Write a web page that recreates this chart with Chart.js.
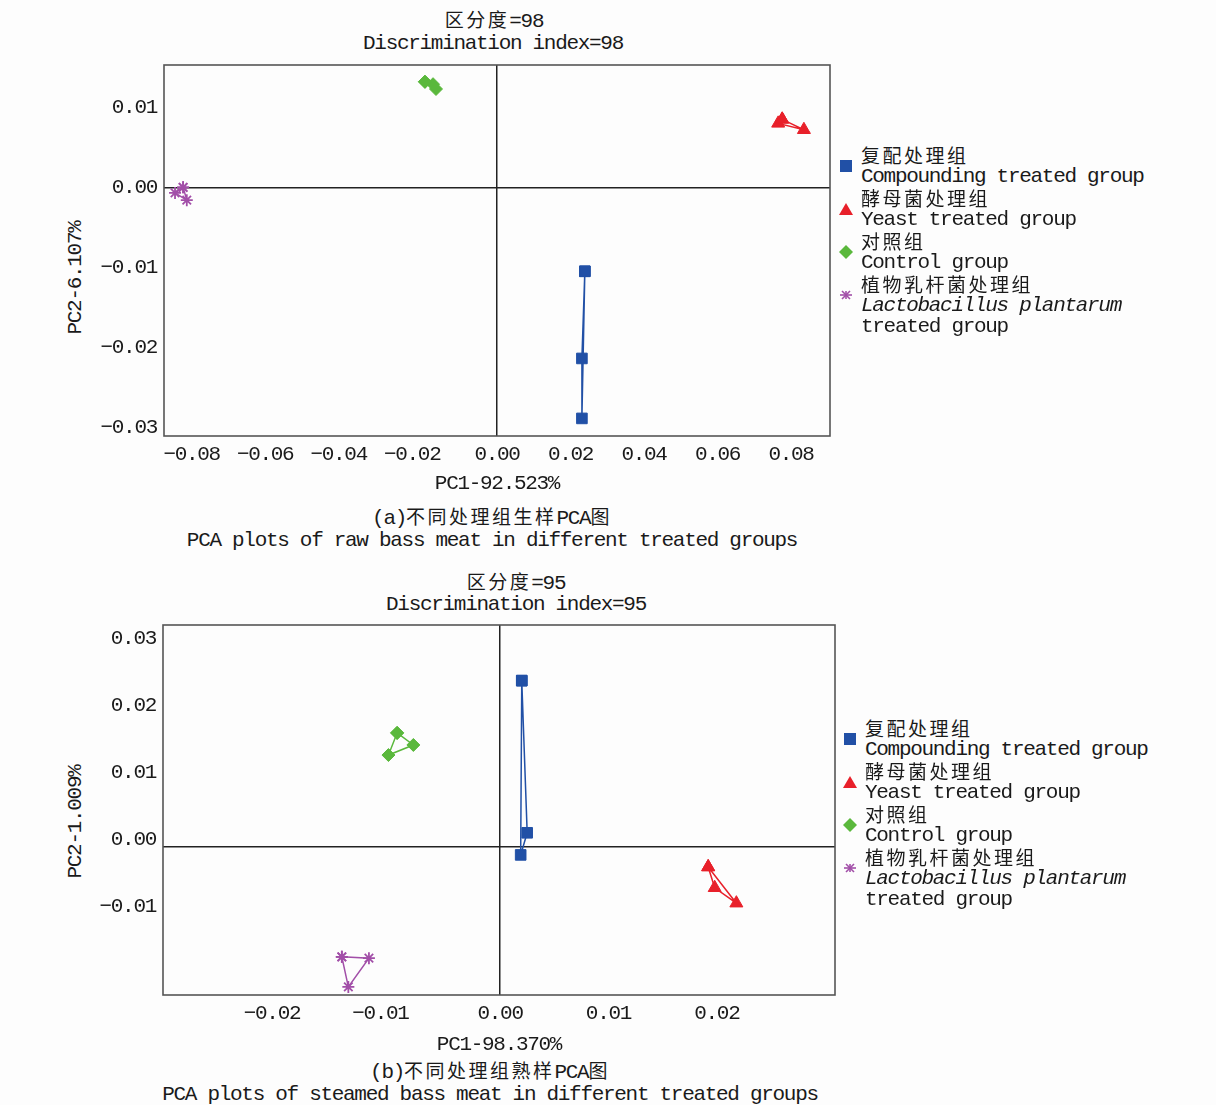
<!DOCTYPE html>
<html>
<head>
<meta charset="utf-8">
<script src="https://cdn.jsdelivr.net/npm/chart.js@4.4.1/dist/chart.umd.min.js"></script>
<style>
  body { margin: 0; background: #fdfdfd; width: 1216px; height: 1105px; position: relative; overflow: hidden;
         font-family: "Liberation Mono", "Noto Sans CJK SC", monospace; font-size: 21px; letter-spacing: -1.3px; color: #1a1a1a; }
  canvas { position: absolute; left: 0; }
  .t { position: absolute; white-space: nowrap; transform: translate(-50%, -50%); line-height: 23px; }
  .yt { transform: translate(-50%, -50%) rotate(-90deg); }
  .c { font-family: "Noto Sans CJK SC"; font-size: 19px; letter-spacing: 2.5px; }
  .legend { position: absolute; white-space: nowrap; }
  .legend .row { position: relative; }
  .legend .ln { height: 21.5px; line-height: 21.5px; overflow: visible; }
  .legend svg { position: absolute; left: -22px; top: 15px; }
  .legend i { font-style: italic; }
</style>
</head>
<body>

<div class="t" style="left:494px;top:20px"><span class="c">区分度</span>=98</div>
<div class="t" style="left:493px;top:43px">Discrimination index=98</div>
<div class="t yt" style="left:75px;top:278px">PC2-6.107%</div>
<div class="t" style="left:492px;top:517px">(a)<span class="c">不同处理组生样</span>PCA<span class="c">图</span></div>
<div class="t" style="left:492px;top:540px">PCA plots of raw bass meat in different treated groups</div>

<div class="t" style="left:516px;top:582px"><span class="c">区分度</span>=95</div>
<div class="t" style="left:516px;top:604px">Discrimination index=95</div>
<div class="t yt" style="left:75px;top:822px">PC2-1.009%</div>
<div class="t" style="left:490px;top:1071px">(b)<span class="c">不同处理组熟样</span>PCA<span class="c">图</span></div>
<div class="t" style="left:490px;top:1094px">PCA plots of steamed bass meat in different treated groups</div>

<canvas id="chartA" width="845" height="445" style="top:55px"></canvas>
<canvas id="chartB" width="850" height="446" style="top:615px"></canvas>

<div class="legend" id="legendA" style="left:861px;top:144px"></div>
<div class="legend" id="legendB" style="left:865px;top:717px"></div>

<script>
// group names
const groupsCn = ['复配处理组', '酵母菌处理组', '对照组', '植物乳杆菌处理组']
const groupsEn = ['Compounding treated group', 'Yeast treated group', 'Control group', 'Lactobacillus plantarum treated group']
const colors = ['#2150a6', '#e8202a', '#5ab83c', '#a24fa8']
const shapes = ['rect', 'triangle', 'rectRot', 'star']

// (a) raw meat, [PC1, PC2]
const compoundA = [[0.0239, -0.0104], [0.0231, -0.0213], [0.0231, -0.0288]]
const yeastA = [[0.0776, 0.0086], [0.0765, 0.0081], [0.0835, 0.0073]]
const controlA = [[-0.0196, 0.0133], [-0.0174, 0.0130], [-0.0166, 0.0124]]
const lactoA = [[-0.0854, 0.0001], [-0.0876, -0.0006], [-0.0844, -0.0015]]

// (b) steamed meat, [PC1, PC2]
const compoundB = [[0.0020, 0.0248], [0.0025, 0.0021], [0.0019, -0.0012]]
const yeastB = [[0.0192, -0.0030], [0.0198, -0.0061], [0.0218, -0.0084]]
const controlB = [[-0.0095, 0.0170], [-0.0080, 0.0152], [-0.0103, 0.0137]]
const lactoB = [[-0.0146, -0.0164], [-0.0121, -0.0166], [-0.0140, -0.0209]]

// tick labels
const xTicksA = [-0.08, -0.06, -0.04, -0.02, 0, 0.02, 0.04, 0.06, 0.08]
const yTicksA = [0.01, 0, -0.01, -0.02, -0.03]
const xTicksB = [-0.02, -0.01, 0, 0.01, 0.02]
const yTicksB = [0.03, 0.02, 0.01, 0, -0.01]

const fmt = (v, pad) => {
    if (Math.abs(v) < 1e-9) return '0.00'
    if (v < 0) return '\u2212' + Math.abs(v).toFixed(2) + (pad ? '  ' : '')
    return v.toFixed(2)
}

// closed outline through the three replicates
const loop = (pts) => pts.concat([pts[0]]).map(p => ({x: p[0], y: p[1]}))

const frame = {
    id: 'frame',
    beforeDraw(chart) {
        chart.ctx.letterSpacing = '-1.3px'
    },
    beforeDatasetsDraw(chart) {
        const {ctx, chartArea: a} = chart
        ctx.save()
        ctx.strokeStyle = '#555'
        ctx.lineWidth = 1.6
        ctx.strokeRect(a.left, a.top, a.right - a.left, a.bottom - a.top)
        ctx.restore()
    }
}

const tickFont = {family: 'Liberation Mono', size: 21}
const zeroLine = c => c.tick && Math.abs(c.tick.value) < 1e-9 ? '#222' : 'rgba(0,0,0,0)'

const makeChart = (id, sets, xr, yr, xt, yt, xTitle, yAxisW, xAxisH, pad, yLabelOff) => {
    const radius = [7.5, 7.5, 6.5, 6]
    new Chart(document.getElementById(id), {
        type: 'scatter',
        data: {
            datasets: sets.map((pts, i) => ({
                label: groupsEn[i],
                data: loop(pts),
                showLine: true,
                borderColor: colors[i],
                backgroundColor: colors[i],
                borderWidth: 1.5,
                pointStyle: shapes[i],
                pointRadius: radius[i],
                pointBorderWidth: i === 3 ? 1.8 : 1,
                pointHoverRadius: radius[i]
            }))
        },
        options: {
            responsive: false,
            animation: false,
            events: [],
            layout: {padding: pad},
            plugins: {legend: {display: false}, tooltip: {enabled: false}},
            scales: {
                x: {
                    min: xr[0], max: xr[1],
                    afterBuildTicks: s => { s.ticks = xt.map(v => ({value: v})) },
                    afterFit: s => { s.height = xAxisH; s.paddingLeft = 0; s.paddingRight = 0 },
                    grid: {drawTicks: false, color: zeroLine, lineWidth: 1.5},
                    border: {display: false},
                    ticks: {autoSkip: false, maxRotation: 0, padding: 6, color: '#1a1a1a', font: tickFont,
                            callback: v => fmt(v, true)},
                    title: {display: true, text: xTitle, color: '#1a1a1a', font: tickFont}
                },
                y: {
                    min: yr[0], max: yr[1],
                    afterBuildTicks: s => { s.ticks = yt.map(v => ({value: v})) },
                    afterFit: s => { s.width = yAxisW; s.paddingTop = 0; s.paddingBottom = 0 },
                    grid: {drawTicks: false, color: zeroLine, lineWidth: 1.5},
                    border: {display: false},
                    ticks: {autoSkip: false, padding: 7, labelOffset: yLabelOff, color: '#1a1a1a', font: tickFont,
                            callback: v => fmt(v, false)}
                }
            }
        },
        plugins: [frame]
    })
}

makeChart('chartA', [compoundA, yeastA, controlA, lactoA], [-0.0906, 0.0906], [-0.031, 0.0154],
    xTicksA, yTicksA, 'PC1-92.523%', 104, 64, {left: 60, top: 10, right: 15, bottom: 0}, -1)
makeChart('chartB', [compoundB, yeastB, controlB, lactoB], [-0.0311, 0.0309], [-0.0221, 0.0331],
    xTicksB, yTicksB, 'PC1-98.370%', 103, 66, {left: 60, top: 10, right: 15, bottom: 0}, -7)

// legend markers
const marker = (i) => {
    const c = colors[i]
    if (i === 0) return `<svg width="14" height="14"><rect x="1" y="1" width="12" height="12" fill="${c}"/></svg>`
    if (i === 1) return `<svg width="14" height="14"><polygon points="7,1 14,13 0,13" fill="${c}"/></svg>`
    if (i === 2) return `<svg width="14" height="14"><polygon points="7,0 14,7 7,14 0,7" fill="${c}"/></svg>`
    return `<svg width="14" height="14" stroke="${c}" stroke-width="1.6"><line x1="1" y1="7" x2="13" y2="7"/><line x1="3" y1="3" x2="11" y2="11"/><line x1="3" y1="11" x2="11" y2="3"/><line x1="7" y1="3" x2="7" y2="11"/></svg>`
}
const legendHtml = groupsCn.map((cn, i) => {
    let en = `<div class="ln">${groupsEn[i]}</div>`
    if (i === 3) en = '<div class="ln"><i>Lactobacillus plantarum</i></div><div class="ln">treated group</div>'
    return `<div class="row">${marker(i)}<div class="ln"><span class="c">${cn}</span></div>${en}</div>`
}).join('')
document.getElementById('legendA').innerHTML = legendHtml
document.getElementById('legendB').innerHTML = legendHtml
</script>
</body>
</html>
